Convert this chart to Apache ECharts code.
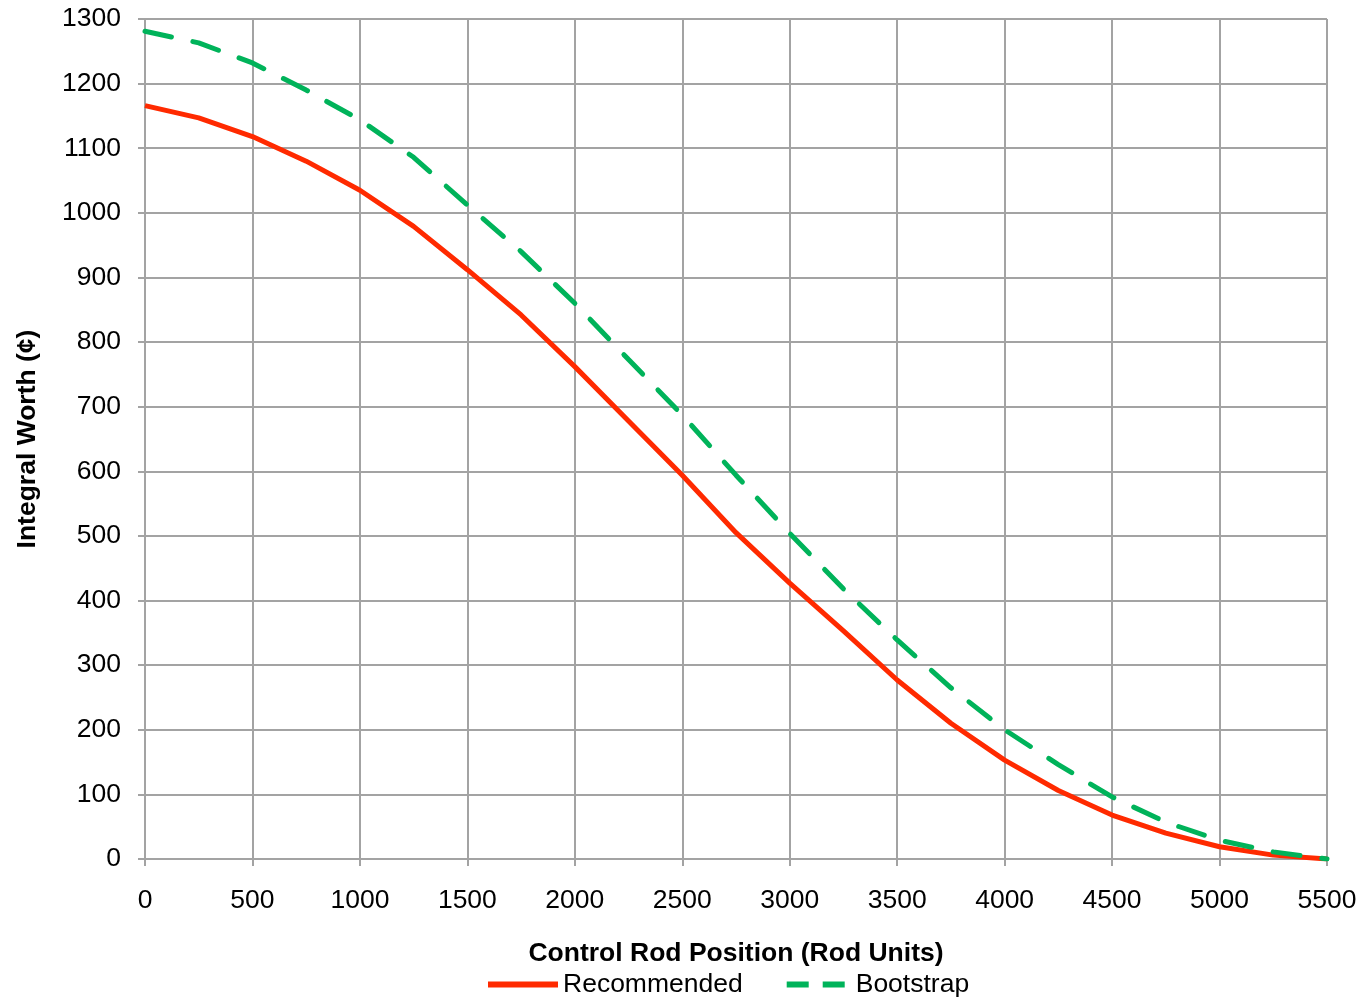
<!DOCTYPE html>
<html>
<head>
<meta charset="utf-8">
<script src="https://cdn.jsdelivr.net/npm/echarts@6/dist/echarts.min.js"></script>
<style>
  html, body { margin: 0; padding: 0; background: #fff; }
  #chart { width: 1364px; height: 998px; }
</style>
</head>
<body>
<div id="chart"></div>
<script>
// rod positions (rod units)
const positions = [0, 250, 500, 750, 1000, 1250, 1500, 1750, 2000, 2250, 2500,
  2750, 3000, 3250, 3500, 3750, 4000, 4250, 4500, 4750, 5000, 5250, 5500]

// integral worth (cents)
const recommended = [1166, 1147, 1118, 1080, 1035, 979, 912, 842, 762, 678, 594,
  505, 427, 353, 277, 210, 153, 106, 68, 40, 19, 6, 0]
const bootstrap = [1281, 1263, 1232, 1190, 1144, 1086, 1012, 940, 860, 773, 687,
  594, 504, 418, 339, 265, 200, 146, 96, 57, 29, 11, 0]

const FONT = 'Liberation Sans, Arial, sans-serif'
const FS = 26.5
const GRID_COLOR = '#a3a3a3'
const RED = '#ff2a00'
const GREEN = '#00b35a'

const toPairs = vals => positions.map((x, i) => [x, vals[i]])

const chart = echarts.init(document.getElementById('chart'))

chart.setOption({
  backgroundColor: '#fff',
  animation: false,
  textStyle: { fontFamily: FONT, color: '#000' },
  grid: { left: 145, right: 37, top: 19, bottom: 139, containLabel: false },
  legend: {
    top: 966,
    left: 483,
    itemWidth: 70,
    itemHeight: 6,
    itemGap: 38,
    textStyle: { fontFamily: FONT, fontSize: FS, color: '#000' },
    data: [
      { name: 'Recommended', icon: 'path://M0,0h70v6h-70z' },
      { name: 'Bootstrap', icon: 'path://M6,0h22v6h-22zM42,0h22v6h-22zM0,0h0.01v6h-0.01zM70,0h-0.01v6h0.01z' }
    ]
  },
  xAxis: {
    type: 'value',
    min: 0,
    max: 5500,
    interval: 500,
    name: 'Control Rod Position (Rod Units)',
    nameLocation: 'middle',
    nameGap: 81,
    nameTextStyle: { fontFamily: FONT, fontSize: FS, fontWeight: 'bold', color: '#000' },
    axisLine: { show: true, lineStyle: { color: GRID_COLOR, width: 2 }},
    axisTick: { show: true, length: 7, lineStyle: { color: GRID_COLOR, width: 2 }},
    axisLabel: { fontFamily: FONT, fontSize: FS, color: '#000', margin: 28, formatter: v => String(v) },
    splitLine: { show: true, lineStyle: { color: GRID_COLOR, width: 2 }}
  },
  yAxis: {
    type: 'value',
    min: 0,
    max: 1300,
    interval: 100,
    name: 'Integral Worth (¢)',
    nameLocation: 'middle',
    nameGap: 104,
    nameTextStyle: { fontFamily: FONT, fontSize: FS, fontWeight: 'bold', color: '#000' },
    axisLine: { show: true, lineStyle: { color: GRID_COLOR, width: 2 }},
    axisTick: { show: true, length: 7, lineStyle: { color: GRID_COLOR, width: 2 }},
    axisLabel: { fontFamily: FONT, fontSize: FS, color: '#000', margin: 24, formatter: v => String(v) },
    splitLine: { show: true, lineStyle: { color: GRID_COLOR, width: 2 }}
  },
  series: [
    {
      name: 'Recommended',
      type: 'line',
      data: toPairs(recommended),
      symbol: 'none',
      itemStyle: { color: RED },
      lineStyle: { color: RED, width: 5 },
      z: 2
    },
    {
      name: 'Bootstrap',
      type: 'line',
      data: toPairs(bootstrap),
      symbol: 'none',
      itemStyle: { color: GREEN },
      lineStyle: { color: GREEN, width: 5, type: [27, 22], cap: 'round' },
      z: 3
    }
  ]
})
</script>
</body>
</html>
